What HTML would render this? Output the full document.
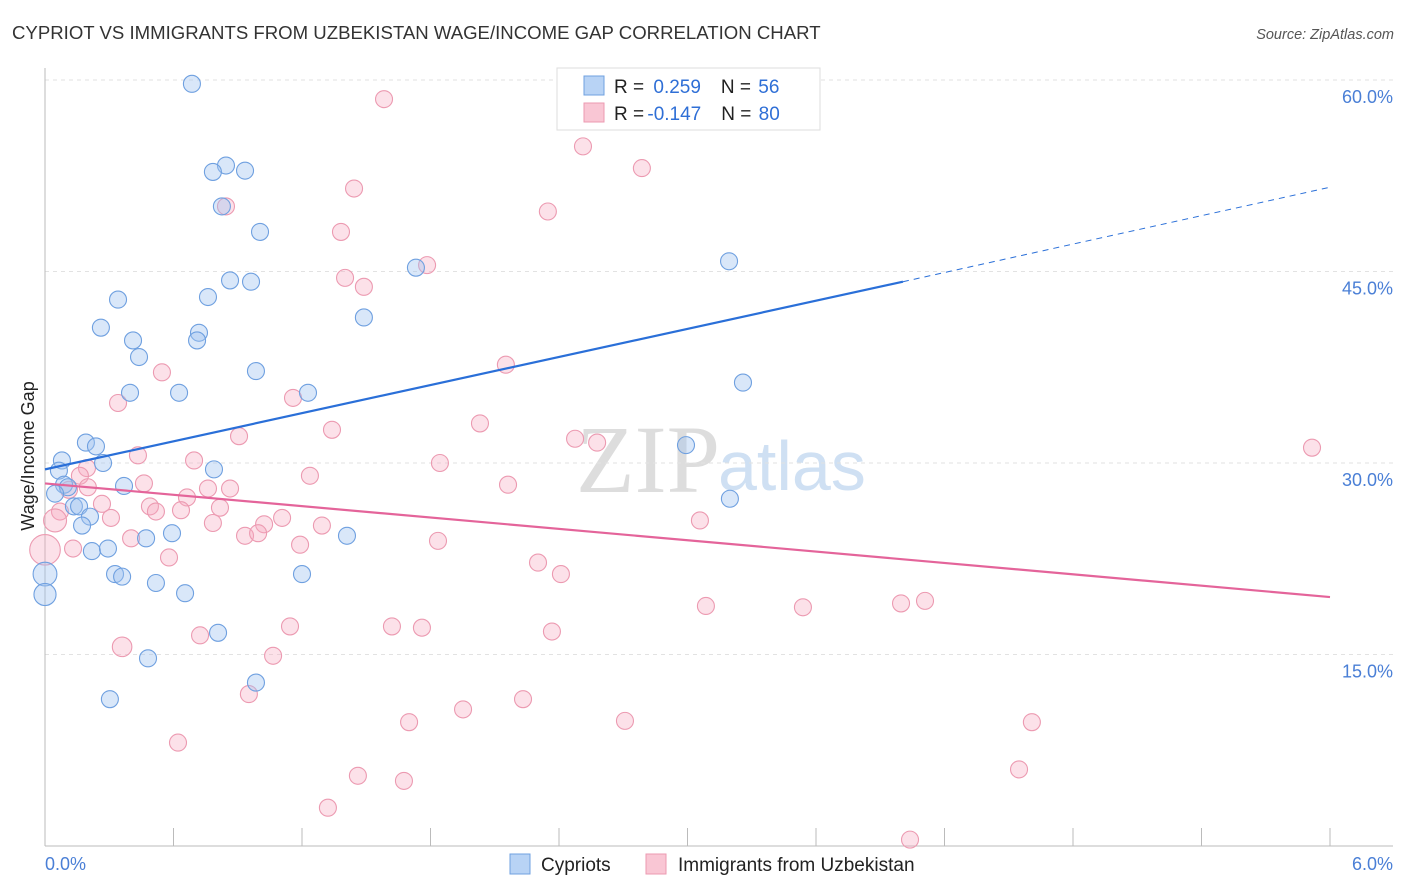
<!DOCTYPE html>
<html><head><meta charset="utf-8"><style>
body{margin:0;background:#fff;font-family:"Liberation Sans",sans-serif;}
svg{display:block}
</style></head><body>
<svg id="c" width="1406" height="892">
<text x="12" y="39" font-size="18.6" fill="#333">CYPRIOT VS IMMIGRANTS FROM UZBEKISTAN WAGE/INCOME GAP CORRELATION CHART</text>
<text x="1394" y="39" font-size="14.5" fill="#555" font-style="italic" text-anchor="end">Source: ZipAtlas.com</text>
<text x="720" y="492" font-size="96" fill="#ddd" text-anchor="end" font-family="Liberation Serif">ZIP</text>
<text x="718" y="490" font-size="70" fill="#cfe0f3">atlas</text>
<g id="grid"></g><g id="axes"></g><g id="pts"></g><g id="trend"></g>
<text transform="translate(34,456) rotate(-90)" font-size="18" fill="#222" text-anchor="middle">Wage/Income Gap</text>
<g>
<rect x="557" y="68" width="263" height="62" fill="#fff" stroke="#ddd"/>
<rect x="584" y="76" width="20" height="19" fill="#b8d3f5" stroke="#6fa0e0"/>
<rect x="584" y="103" width="20" height="19" fill="#f9c6d4" stroke="#ec9ab1"/>
<text x="614" y="93" font-size="19" fill="#222">R = <tspan fill="#2f6fd6" dx="4">0.259</tspan><tspan dx="20">N = </tspan><tspan fill="#2f6fd6" dx="2">56</tspan></text>
<text x="614" y="120" font-size="19" fill="#222">R = <tspan fill="#2f6fd6" dx="-2">-0.147</tspan><tspan dx="20">N = </tspan><tspan fill="#2f6fd6" dx="2">80</tspan></text>
</g>
<g>
<rect x="510" y="854" width="20" height="20" fill="#b8d3f5" stroke="#6fa0e0"/>
<text x="541" y="871" font-size="19" fill="#222">Cypriots</text>
<rect x="646" y="854" width="20" height="20" fill="#f9c6d4" stroke="#ec9ab1"/>
<text x="678" y="871" font-size="19" fill="#222">Immigrants from Uzbekistan</text>
</g>
</svg>
<script>
const xTicks=[0,0.6,1.2,1.8,2.4,3.0,3.6,4.2,4.8,5.4,6.0];
const yTicks=[15,30,45,60];
const yTickLabels=["15.0%","30.0%","45.0%","60.0%"];
const xTickLabels=["0.0%","6.0%"];
const blueX=[0.686,0.845,0.784,0.934,0.826,1.004,1.732,3.194,0.864,0.962,0.341,0.761,1.489,0.261,0.719,0.411,0.710,0.439,0.985,0.397,0.626,1.228,3.259,2.993,0.191,0.238,0.079,0.271,0.789,0.065,0.089,0.107,0.369,0.047,3.198,0.135,0.159,0.210,0.173,0.472,0.593,1.410,0.219,0.294,0.327,0.360,1.200,0.0,0.0,0.518,0.654,0.808,0.481,0.985,0.303];
const blueY=[59.7,53.3,52.8,52.9,50.1,48.1,45.3,45.8,44.3,44.2,42.8,43.0,41.4,40.6,40.2,39.6,39.6,38.3,37.2,35.5,35.5,35.5,36.3,31.4,31.6,31.3,30.2,30.0,29.5,29.4,28.3,28.1,28.2,27.6,27.2,26.6,26.6,25.8,25.1,24.1,24.5,24.3,23.1,23.3,21.3,21.1,21.3,21.3,19.7,20.6,19.8,16.7,14.7,12.8,11.5];
const blueSize=[1,1,1,1,1,1,1,1,1,1,1,1,1,1,1,1,1,1,1,1,1,1,1,1,1,1,1,1,1,1,1,1,1,1,1,1,1,1,1,1,1,1,1,1,1,1,1,1.4,1.3,1,1,1,1,1,1];
const pinkX=[1.583,2.512,2.787,1.443,2.348,0.845,1.382,1.784,1.401,1.489,2.152,0.546,0.341,1.158,2.031,1.340,0.906,2.475,2.578,5.916,0.434,0.696,1.844,0.196,0.163,1.237,0.200,0.462,0.864,0.761,2.162,0.112,0.663,0.266,0.490,0.518,0.635,0.817,0.070,0.308,1.107,1.023,0.784,1.293,3.058,0.047,0.934,0.995,0.402,1.835,1.191,0.131,0.0,0.579,2.302,2.409,3.086,3.539,3.997,4.109,0.360,0.724,1.144,1.620,1.760,2.367,1.065,0.952,2.232,1.952,1.700,2.708,4.608,0.621,1.461,1.676,4.548,1.321,4.039];
const pinkY=[58.5,54.8,53.1,51.5,49.7,50.1,48.1,45.5,44.5,43.8,37.7,37.1,34.7,35.1,33.1,32.6,32.1,31.9,31.6,31.2,30.6,30.2,30.0,29.6,29.0,29.0,28.1,28.4,28.0,28.0,28.3,27.9,27.3,26.8,26.6,26.2,26.3,26.5,26.2,25.7,25.7,25.2,25.3,25.1,25.5,25.5,24.3,24.5,24.1,23.9,23.6,23.3,23.2,22.6,22.2,21.3,18.8,18.7,19.0,19.2,15.6,16.5,17.2,17.2,17.1,16.8,14.9,11.9,11.5,10.7,9.7,9.8,9.7,8.1,5.5,5.1,6.0,3.0,0.5];
const pinkSize=[1,1,1,1,1,1,1,1,1,1,1,1,1,1,1,1,1,1,1,1,1,1,1,1,1,1,1,1,1,1,1,1,1,1,1,1,1,1,1,1,1,1,1,1,1,1.35,1,1,1,1,1,1,1.8,1,1,1,1,1,1,1,1.15,1,1,1,1,1,1,1,1,1,1,1,1,1,1,1,1,1,1];
const blueTrend=[[0,29.5],[4.006,44.2]];
const blueTrendExt=[[4.006,44.2],[6.0,51.6]];
const pinkTrend=[[0,28.4],[6.0,19.5]];
const X=v=>45+v/6*1285, Y=v=>846-v/60*766;
const NS="http://www.w3.org/2000/svg";
function mk(tag,attrs,parent){const e=document.createElementNS(NS,tag);for(const k in attrs)e.setAttribute(k,attrs[k]);document.getElementById(parent).appendChild(e);return e;}
yTicks.forEach((t,i)=>{
 const g=mk('line',{x1:45,x2:1393,y1:Y(t),y2:Y(t),stroke:'#e2e2e2','stroke-dasharray':'4,4'},'grid');
 
 
 const l=mk('text',{x:1393,y:Y(t)+23,'font-size':18,fill:'#4a7fd6','text-anchor':'end'},'axes');l.textContent=yTickLabels[i];
 
 
});
const ya=mk('line',{x1:45,x2:45,y1:68,y2:846,stroke:'#bbb'},'axes');


const xa=mk('line',{x1:45,x2:1393,y1:846,y2:846,stroke:'#bbb'},'axes');


xTicks.forEach(t=>{const k=mk('line',{x1:X(t),x2:X(t),y1:828,y2:846,stroke:'#bbb'},'axes');
 
 });
[[0,'start',45],[6,'end',1393]].forEach((a,i)=>{const l=mk('text',{x:a[2],y:870,'font-size':18,fill:'#4a7fd6','text-anchor':a[1]},'axes');l.textContent=xTickLabels[i];
 
 });
function pts(xs,ys,ss,fill,stroke,name){xs.forEach((x,i)=>{const c=mk('circle',{cx:X(x),cy:Y(ys[i]),r:8.5*ss[i],fill:fill,stroke:stroke,'stroke-width':1.1},'pts');
 
 });}
pts(pinkX,pinkY,pinkSize,'rgba(246,170,192,0.35)','#ec9ab1','point-uzbekistan');
pts(blueX,blueY,blueSize,'rgba(160,196,240,0.4)','#6fa0e0','point-cypriots');
function ln(p,st,w,dash,name){const l=mk('line',{x1:X(p[0][0]),y1:Y(p[0][1]),x2:X(p[1][0]),y2:Y(p[1][1]),stroke:st,'stroke-width':w},'trend');if(dash)l.setAttribute('stroke-dasharray',dash);
 
 }
ln(blueTrend,'#2a6fd8',2.2,null,'trend-line-cypriots');
ln(blueTrendExt,'#2a6fd8',1,'6,5','trend-line-cypriots-extension');
ln(pinkTrend,'#e4649a',2.2,null,'trend-line-uzbekistan');
</script>
</body></html>
